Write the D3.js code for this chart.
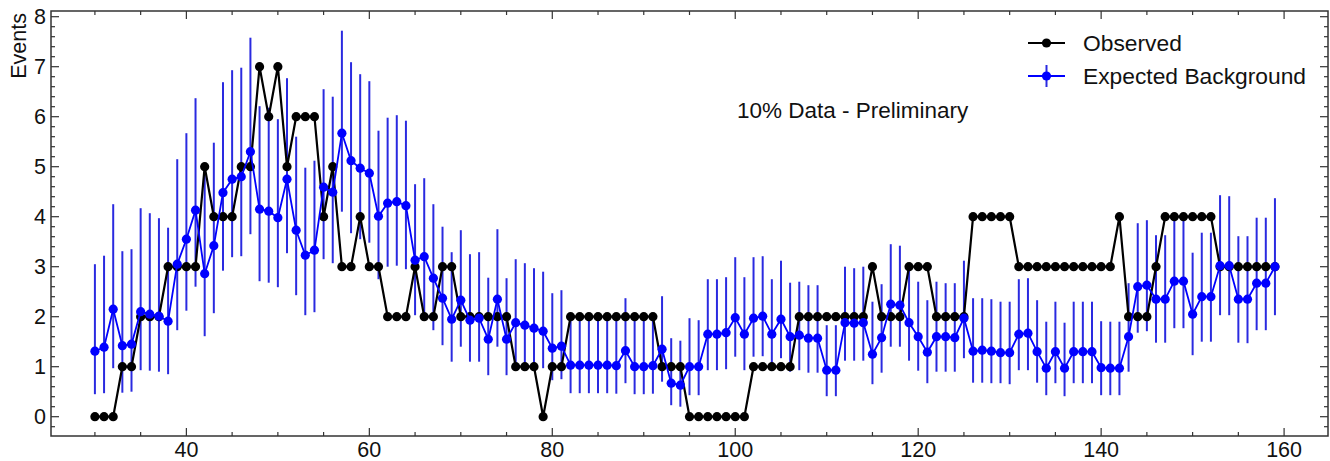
<!DOCTYPE html>
<html>
<head>
<meta charset="utf-8">
<script src="https://cdn.jsdelivr.net/npm/d3@7"></script>
<style>
  html, body { margin: 0; padding: 0; background: #fff; }
  svg { display: block; font-family: "Liberation Sans", Arial, sans-serif; }
</style>
</head>
<body>
<div id="chart"></div>
<script>
// bin centres
const bins = [30,31,32,33,34,35,36,37,38,39,40,41,42,43,44,45,46,47,48,49,
  50,51,52,53,54,55,56,57,58,59,60,61,62,63,64,65,66,67,68,69,
  70,71,72,73,74,75,76,77,78,79,80,81,82,83,84,85,86,87,88,89,
  90,91,92,93,94,95,96,97,98,99,100,101,102,103,104,105,106,107,108,109,
  110,111,112,113,114,115,116,117,118,119,120,121,122,123,124,125,126,127,128,129,
  130,131,132,133,134,135,136,137,138,139,140,141,142,143,144,145,146,147,148,149,
  150,151,152,153,154,155,156,157,158,159];

const observed = [0,0,0,1,1,2,2,2,3,3,3,3,5,4,4,4,5,5,7,6,
  7,5,6,6,6,4,5,3,3,4,3,3,2,2,2,3,2,2,3,3,
  2,2,2,2,2,2,1,1,1,0,1,1,2,2,2,2,2,2,2,2,
  2,2,1,1,1,0,0,0,0,0,0,0,1,1,1,1,1,2,2,2,
  2,2,2,2,2,3,2,2,2,3,3,3,2,2,2,2,4,4,4,4,
  4,3,3,3,3,3,3,3,3,3,3,3,4,2,2,2,3,4,4,4,
  4,4,4,3,3,3,3,3,3,3];

const expected = [1.31,1.39,2.15,1.42,1.45,2.10,2.05,2.01,1.91,3.05,3.55,4.13,2.86,3.42,4.48,4.75,4.80,5.30,4.15,4.11,
  3.98,4.75,3.73,3.23,3.33,4.59,4.49,5.67,5.12,4.97,4.87,4.01,4.27,4.30,4.22,3.13,3.20,2.77,2.37,1.95,
  2.33,1.93,1.97,1.55,2.35,1.55,1.88,1.83,1.77,1.71,1.37,1.41,1.03,1.03,1.03,1.03,1.03,1.02,1.32,1.00,
  1.00,1.02,1.35,0.67,0.63,1.00,1.00,1.65,1.65,1.68,1.98,1.65,1.97,2.01,1.65,1.95,1.60,1.63,1.57,1.57,
  0.93,0.93,1.88,1.87,1.88,1.25,1.58,2.25,2.23,1.88,1.60,1.29,1.60,1.60,1.58,1.97,1.31,1.33,1.31,1.28,
  1.28,1.65,1.67,1.30,0.97,1.30,0.97,1.30,1.30,1.30,0.98,0.97,0.97,1.60,2.60,2.63,2.35,2.35,2.71,2.71,
  2.05,2.40,2.40,3.02,3.02,2.35,2.35,2.67,2.67,3.00];

// upper and lower ends of the background uncertainty bars
const expectedHigh = [3.05,3.22,4.25,3.31,3.35,4.17,4.07,3.97,3.78,5.15,5.67,6.37,4.90,5.48,6.69,6.93,6.98,7.58,6.21,6.18,
  5.95,6.77,5.60,4.98,5.12,6.55,6.40,7.72,7.09,6.85,6.71,5.72,5.98,6.03,5.92,4.65,4.77,4.25,3.80,3.29,
  3.73,3.25,3.29,2.78,3.75,2.77,3.15,3.07,2.97,2.90,2.47,2.53,2.05,2.05,2.05,2.05,2.05,2.03,2.37,2.00,
  2.00,2.02,2.41,1.57,1.52,1.97,1.93,2.75,2.75,2.79,3.19,2.79,3.19,3.21,2.75,3.12,2.68,2.70,2.63,2.63,
  1.83,1.83,3.00,2.97,3.00,2.30,2.65,3.45,3.42,3.00,2.70,2.33,2.70,2.67,2.67,3.12,2.37,2.37,2.35,2.30,
  2.30,2.75,2.77,2.33,1.90,2.30,1.88,2.30,2.30,2.30,1.91,1.90,1.90,2.67,3.87,3.93,3.63,3.63,4.03,4.03,
  3.28,3.68,3.68,4.43,4.41,3.61,3.61,3.98,3.98,4.37];

const expectedLow = [0.45,0.47,0.97,0.48,0.50,0.93,0.92,0.90,0.85,1.73,2.12,2.60,1.61,2.07,2.92,3.19,3.21,3.65,2.71,2.68,
  2.59,3.27,2.43,2.03,2.09,3.15,3.07,4.10,3.67,3.55,3.48,2.75,3.00,3.02,2.95,2.03,2.07,1.73,1.43,1.10,
  1.40,1.10,1.10,0.83,1.40,0.83,1.05,1.03,1.00,0.97,0.73,0.75,0.47,0.47,0.47,0.47,0.47,0.46,0.67,0.45,
  0.45,0.46,0.70,0.23,0.20,0.43,0.43,0.93,0.93,0.95,1.20,0.93,1.20,1.21,0.93,1.17,0.90,0.93,0.88,0.88,
  0.41,0.41,1.12,1.12,1.12,0.65,0.88,1.40,1.40,1.12,0.92,0.67,0.90,0.90,0.90,1.17,0.68,0.68,0.67,0.67,
  0.65,0.93,0.93,0.68,0.43,0.67,0.41,0.67,0.67,0.67,0.43,0.43,0.43,0.90,1.68,1.71,1.48,1.48,1.77,1.77,
  1.23,1.50,1.50,2.03,2.03,1.48,1.47,1.73,1.73,2.03];

const xTickLabels = [40, 60, 80, 100, 120, 140, 160];
const yTickLabels = [0, 1, 2, 3, 4, 5, 6, 7, 8];
const legendLabels = ['Observed', 'Expected Background'];
const annotation = '10% Data - Preliminary';

const W = 1330, H = 461;
const plot = { left: 51, right: 1328, top: 11, bottom: 436 };

const x = d3.scaleLinear().domain([25.2, 164.8]).range([plot.left, plot.right]);
const y = d3.scaleLinear().domain([-0.386, 8.114]).range([plot.bottom, plot.top]);

const svg = d3.select('#chart').append('svg')
  .attr('width', W).attr('height', H);

const rows = bins.map((b, i) => ({
  x: b, obs: observed[i], exp: expected[i], hi: expectedHigh[i], lo: expectedLow[i]
}));

const blueBar = '#2a2ae0';
const blue = '#0000ff';
const R = 4.6;

// error bars
svg.append('g').selectAll('line')
  .data(rows)
  .join('line')
  .attr('x1', d => x(d.x)).attr('x2', d => x(d.x))
  .attr('y1', d => y(d.lo)).attr('y2', d => y(d.hi))
  .attr('stroke', blueBar).attr('stroke-width', 2);

// observed line + markers
svg.append('path')
  .datum(rows)
  .attr('d', d3.line().x(d => x(d.x)).y(d => y(d.obs)))
  .attr('fill', 'none').attr('stroke', '#000').attr('stroke-width', 2.2);
svg.append('g').selectAll('circle')
  .data(rows)
  .join('circle')
  .attr('cx', d => x(d.x)).attr('cy', d => y(d.obs)).attr('r', R)
  .attr('fill', '#000');

// expected line + markers
svg.append('path')
  .datum(rows)
  .attr('d', d3.line().x(d => x(d.x)).y(d => y(d.exp)))
  .attr('fill', 'none').attr('stroke', blue).attr('stroke-width', 1.8);
svg.append('g').selectAll('circle')
  .data(rows)
  .join('circle')
  .attr('cx', d => x(d.x)).attr('cy', d => y(d.exp)).attr('r', R)
  .attr('fill', blue);

// frame
svg.append('rect')
  .attr('x', plot.left).attr('y', plot.top)
  .attr('width', plot.right - plot.left).attr('height', plot.bottom - plot.top)
  .attr('fill', 'none').attr('stroke', '#333').attr('stroke-width', 1.5);

// ticks on all four sides, drawn inwards
const xMinor = d3.range(30, 165, 5);
const yMinor = d3.range(-2, 81, 2).map(v => v / 10);

const tg = svg.append('g').attr('stroke', '#333').attr('stroke-width', 1.2);
xMinor.forEach(v => {
  const L = v % 20 === 0 ? 8 : 4;
  tg.append('line').attr('x1', x(v)).attr('x2', x(v)).attr('y1', plot.bottom).attr('y2', plot.bottom - L);
  tg.append('line').attr('x1', x(v)).attr('x2', x(v)).attr('y1', plot.top).attr('y2', plot.top + L);
});
yMinor.forEach(v => {
  const L = Math.abs(v - Math.round(v)) < 1e-6 ? 8 : 4;
  tg.append('line').attr('x1', plot.left).attr('x2', plot.left + L).attr('y1', y(v)).attr('y2', y(v));
  tg.append('line').attr('x1', plot.right).attr('x2', plot.right - L).attr('y1', y(v)).attr('y2', y(v));
});

// tick labels
svg.append('g').selectAll('text')
  .data(xTickLabels)
  .join('text')
  .attr('x', d => x(d)).attr('y', 457)
  .attr('text-anchor', 'middle')
  .attr('font-size', 21.5).attr('fill', '#111')
  .text(d => d);

svg.append('g').selectAll('text')
  .data(yTickLabels)
  .join('text')
  .attr('x', 46).attr('y', d => y(d))
  .attr('dy', '0.36em')
  .attr('text-anchor', 'end')
  .attr('font-size', 21.5).attr('fill', '#111')
  .text(d => d);

// y title
svg.append('text')
  .attr('transform', 'translate(26,13) rotate(-90)')
  .attr('text-anchor', 'end')
  .attr('font-size', 21.5).attr('fill', '#111')
  .text('Events');

// annotation
svg.append('text')
  .attr('x', 737).attr('y', 118)
  .attr('font-size', 22.5).attr('fill', '#111')
  .text(annotation);

// legend
const lg = svg.append('g');
lg.append('line').attr('x1', 1028).attr('x2', 1065).attr('y1', 43).attr('y2', 43)
  .attr('stroke', '#000').attr('stroke-width', 2.2);
lg.append('circle').attr('cx', 1046.5).attr('cy', 43).attr('r', R).attr('fill', '#000');
lg.append('line').attr('x1', 1028).attr('x2', 1065).attr('y1', 76).attr('y2', 76)
  .attr('stroke', blue).attr('stroke-width', 1.8);
lg.append('line').attr('x1', 1046.5).attr('x2', 1046.5).attr('y1', 65).attr('y2', 87)
  .attr('stroke', blueBar).attr('stroke-width', 2);
lg.append('circle').attr('cx', 1046.5).attr('cy', 76).attr('r', R).attr('fill', blue);
lg.selectAll('text')
  .data(legendLabels)
  .join('text')
  .attr('x', 1083).attr('y', (d, i) => 43 + i * 33)
  .attr('dy', '0.36em')
  .attr('font-size', 22.8).attr('fill', '#111')
  .text(d => d);
</script>
</body>
</html>
